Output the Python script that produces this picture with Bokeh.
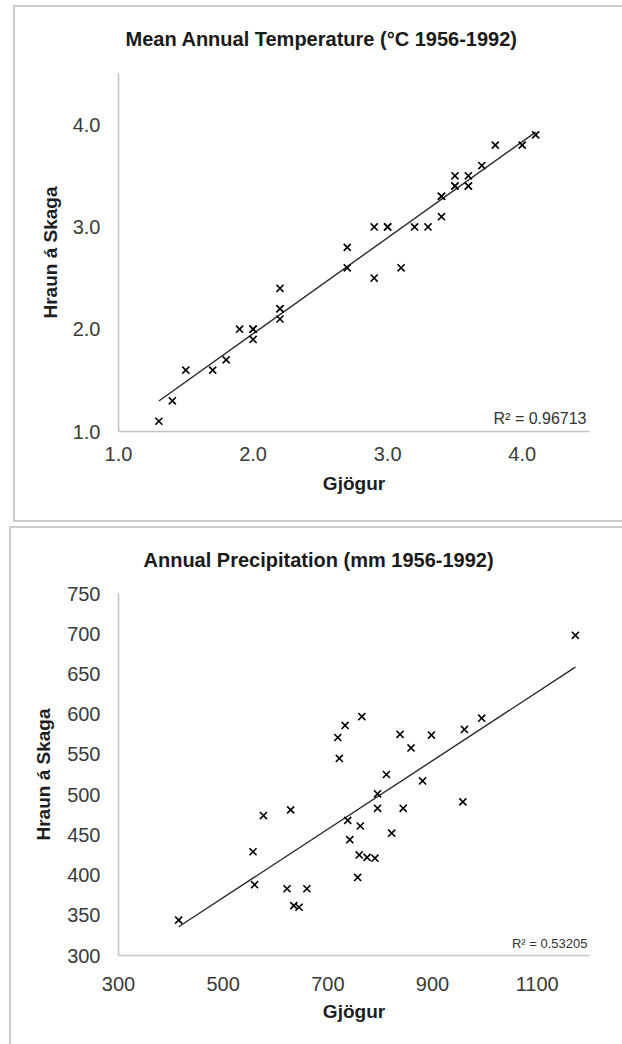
import numpy as np
from bokeh.plotting import figure
from bokeh.models import Range1d, FixedTicker, NumeralTickFormatter, Label, Title
from bokeh.layouts import column
from bokeh.embed import file_html
from bokeh.resources import INLINE

# Mean annual temperature (°C), 1956-1992
temp_gjogur = [1.3, 1.4, 1.5, 1.7, 1.8, 1.9, 2.0, 2.0, 2.0, 2.2, 2.2, 2.2, 2.2,
               2.7, 2.7, 2.9, 2.9, 3.0, 3.0, 3.1, 3.2, 3.3, 3.4, 3.4, 3.4,
               3.5, 3.5, 3.5, 3.6, 3.6, 3.6, 3.7, 3.8, 4.0, 4.1]
temp_hraun = [1.1, 1.3, 1.6, 1.6, 1.7, 2.0, 2.0, 1.9, 2.0, 2.4, 2.2, 2.2, 2.1,
              2.8, 2.6, 3.0, 2.5, 3.0, 3.0, 2.6, 3.0, 3.0, 3.1, 3.3, 3.3,
              3.5, 3.4, 3.4, 3.5, 3.4, 3.4, 3.6, 3.8, 3.8, 3.9]
temp_r2 = "R\u00b2 = 0.96713"
temp_ticks = [1.0, 2.0, 3.0, 4.0]

# Annual precipitation (mm), 1956-1992
precip_gjogur = [415, 557, 560, 577, 622, 629, 635, 645, 660, 719, 722, 733,
                 738, 742, 757, 760, 762, 765, 775, 790, 795, 795, 812, 822,
                 838, 844, 859, 881, 898, 958, 961, 994, 1173]
precip_hraun = [344, 429, 388, 474, 383, 481, 362, 360, 383, 571, 545, 586,
                468, 444, 397, 425, 461, 597, 422, 421, 501, 483, 525, 452,
                575, 483, 558, 517, 574, 491, 581, 595, 698]
precip_r2 = "R\u00b2 = 0.53205"
precip_xticks = [300, 500, 700, 900, 1100]
precip_yticks = [300, 350, 400, 450, 500, 550, 600, 650, 700, 750]

FONT = "Liberation Sans"
EDGE = "#cccccc"


def panel_edges(left_px, top_px, bottom_line):
    """Inset shadows that paint a 2px panel frame inside the figure box."""
    edges = [f"inset 0 {top_px}px 0 0 #ffffff",
             f"inset {left_px}px 0 0 0 #ffffff",
             f"inset 0 {top_px + 2}px 0 0 {EDGE}",
             f"inset {left_px + 2}px 0 0 0 {EDGE}"]
    if bottom_line:
        edges.append(f"inset 0 -2px 0 0 {EDGE}")
    return ", ".join(edges)


def scatter_panel(title, xs, ys, r2, xr, yr, xticks, yticks, fmt,
                  width, height, borders, edges, fonts,
                  title_offset, title_standoff, stands, r2_inset):
    left, right, top, bottom = borders
    title_size, tick_size, label_size, r2_size = fonts
    xtick_st, xlab_st, ytick_st, ylab_st = stands
    p = figure(width=width, height=height, output_backend="svg",
               toolbar_location=None, x_range=Range1d(*xr),
               y_range=Range1d(*yr), min_border_left=left,
               min_border_right=right, min_border_top=top,
               min_border_bottom=bottom)
    p.margin = (0, 0, 0, 0)
    p.styles = {"box-shadow": edges, "background-color": "#ffffff"}
    p.outline_line_color = None
    p.grid.visible = False
    p.background_fill_color = "white"
    p.border_fill_color = None

    p.title = Title(text=title, align="left", offset=title_offset,
                    standoff=title_standoff, text_font=FONT,
                    text_font_style="bold", text_font_size=title_size,
                    text_color="#1a1a1a")

    for ax, ticks in ((p.xaxis[0], xticks), (p.yaxis[0], yticks)):
        ax.ticker = FixedTicker(ticks=ticks)
        ax.formatter = NumeralTickFormatter(format=fmt)
        ax.axis_line_color = "#c4c4c4"
        ax.axis_line_width = 1.6
        ax.major_tick_line_color = None
        ax.minor_tick_line_color = None
        ax.major_tick_out = 0
        ax.major_tick_in = 0
        ax.minor_tick_out = 0
        ax.major_label_text_font = FONT
        ax.major_label_text_font_size = tick_size
        ax.major_label_text_color = "#3a3a3a"
        ax.axis_label_text_font = FONT
        ax.axis_label_text_font_style = "bold"
        ax.axis_label_text_font_size = label_size
        ax.axis_label_text_color = "#1e1e1e"

    p.xaxis.axis_label = "Gjögur"
    p.yaxis.axis_label = "Hraun á Skaga"
    p.xaxis.major_label_standoff = xtick_st
    p.xaxis.axis_label_standoff = xlab_st
    p.yaxis.major_label_standoff = ytick_st
    p.yaxis.axis_label_standoff = ylab_st

    # least-squares trendline across the observed range
    slope, intercept = np.polyfit(xs, ys, 1)
    x_fit = [min(xs), max(xs)]
    y_fit = [slope * v + intercept for v in x_fit]
    p.line(x_fit, y_fit, line_color="#2a2a2a", line_width=1.4)

    p.scatter(xs, ys, marker="x", size=10, line_color="black",
              line_width=1.6)

    frame_w = width - left - right
    p.add_layout(Label(x=frame_w - r2_inset, y=5, x_units="screen",
                       y_units="screen", text=r2, text_align="right",
                       text_font=FONT, text_font_size=r2_size,
                       text_color="#333333"))
    return p


top = scatter_panel("Mean Annual Temperature (°C 1956-1992)",
                    temp_gjogur, temp_hraun, temp_r2,
                    (1.0, 4.5), (1.0, 4.5), temp_ticks, temp_ticks, "0.0",
                    width=622, height=522, borders=(115, 28, 73, 91),
                    edges=panel_edges(13, 5, True),
                    fonts=("20px", "20px", "19px", "16px"),
                    title_offset=7, title_standoff=47,
                    stands=(15, 9, 18, 9), r2_inset=11)

bottom = scatter_panel("Annual Precipitation (mm 1956-1992)",
                       precip_gjogur, precip_hraun, precip_r2,
                       (300, 1200), (300, 750), precip_xticks, precip_yticks,
                       "0", width=622, height=522,
                       borders=(118, 33, 71, 89),
                       edges=panel_edges(9, 4, False),
                       fonts=("20px", "20px", "19px", "13px"),
                       title_offset=25, title_standoff=46,
                       stands=(21, 7, 18, 10), r2_inset=2)

layout = column(top, bottom, spacing=0)
open("out.html", "w").write(file_html(layout, INLINE))
